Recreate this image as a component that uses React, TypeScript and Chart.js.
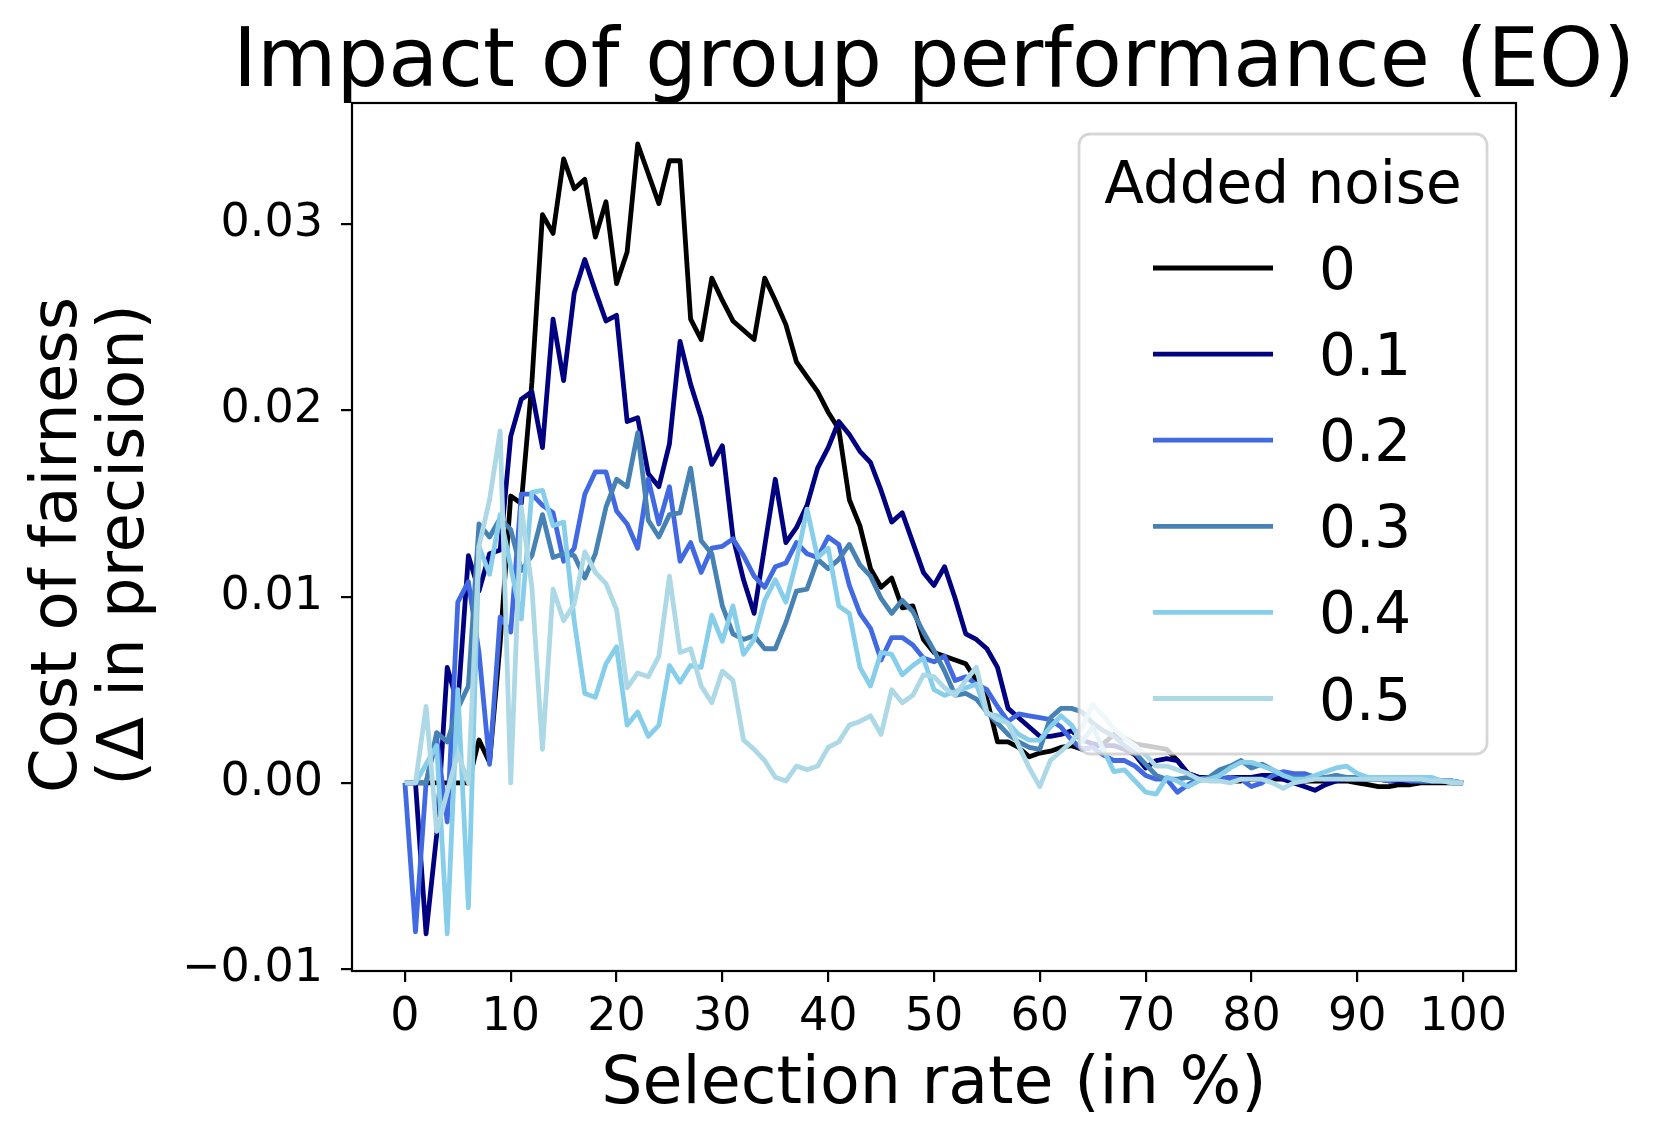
import React, { useEffect, useRef } from 'react';
import { Chart, registerables } from 'chart.js';

Chart.register(...registerables);

const chartTitle = 'Impact of group performance (EO)';
const xLabel = 'Selection rate (in %)';
const yLabel = ['Cost of fairness', '(\u0394 in precision)'];
const legendTitle = 'Added noise';

const selectionRate = [
  0, 1, 2, 3, 4, 5, 6, 7, 8, 9, 10, 11, 12, 13, 14, 15, 16, 17, 18, 19, 20,
  21, 22, 23, 24, 25, 26, 27, 28, 29, 30, 31, 32, 33, 34, 35, 36, 37, 38, 39, 40,
  41, 42, 43, 44, 45, 46, 47, 48, 49, 50, 51, 52, 53, 54, 55, 56, 57, 58, 59, 60,
  61, 62, 63, 64, 65, 66, 67, 68, 69, 70, 71, 72, 73, 74, 75, 76, 77, 78, 79, 80,
  81, 82, 83, 84, 85, 86, 87, 88, 89, 90, 91, 92, 93, 94, 95, 96, 97, 98, 99, 100,
];

const noiseLabels = ['0', '0.1', '0.2', '0.3', '0.4', '0.5'];
const noiseColors = ['#000000', '#000080', '#4169e1', '#4682b4', '#87ceeb', '#add8e6'];

const noise00 = [
  0, 0, 0, 0, 0, 0, 0, 0.0023, 0.0011, 0.0075, 0.0154,
  0.015, 0.0215, 0.0305, 0.0295, 0.0335, 0.0319, 0.0324, 0.0293, 0.0312, 0.0268,
  0.0285, 0.0343, 0.0327, 0.0311, 0.0334, 0.0334, 0.0249, 0.0238, 0.0271, 0.0259,
  0.0248, 0.0243, 0.0238, 0.0271, 0.0259, 0.0246, 0.0226, 0.0218, 0.021, 0.0199,
  0.019, 0.0152, 0.0138, 0.0115, 0.0105, 0.011, 0.0094, 0.0095, 0.0077, 0.007,
  0.0068, 0.0066, 0.0064, 0.0055, 0.0045, 0.0022, 0.0022, 0.0019, 0.0014, 0.0016,
  0.0017, 0.0019, 0.002, 0.0018, 0.0019, 0.0021, 0.0026, 0.0024, 0.0021, 0.002,
  0.0019, 0.0018, 0.0012, 0.0005, 0.0003, 0.0002, 0.0002, 0.0001, 0.0001, 0.0002,
  0.0002, 0.0002, 0.0002, 0.0001, 0.0001, 0.0001, 0.0001, 0.0001, 0.0001, 0,
  -0.0001, -0.0002, -0.0002, -0.0001, -0.0001, 0, 0, 0, 0, 0,
];

const noise01 = [
  0, 0, -0.0081, -0.0028, 0.0062, 0.0042, 0.0122, 0.0103, 0.0123, 0.0125, 0.0186,
  0.0206, 0.021, 0.018, 0.0249, 0.0216, 0.0263, 0.0281, 0.0264, 0.0248, 0.0251,
  0.0194, 0.0196, 0.0166, 0.0159, 0.0182, 0.0237, 0.0214, 0.0196, 0.0171, 0.0181,
  0.0132, 0.0109, 0.0091, 0.0127, 0.0163, 0.0129, 0.0137, 0.0149, 0.0169, 0.018,
  0.0194, 0.0187, 0.0178, 0.0172, 0.0157, 0.014, 0.0145, 0.0129, 0.0113, 0.0106,
  0.0116, 0.0099, 0.008, 0.0077, 0.0072, 0.0062, 0.004, 0.0035, 0.003, 0.0025,
  0.0025, 0.0026, 0.0028, 0.0023, 0.0021, 0.002, 0.002, 0.0018, 0.0015, 0.0008,
  0.0012, 0.0013, 0.0012, 0.0005, 0.0003, 0.0003, 0.0002, 0.0003, 0.0003, 0.0003,
  0.0004, 0.0004, 0.0002, 0, -0.0002, -0.0004, -0.0001, 0.0001, 0.0002, 0.0002,
  0.0002, 0.0002, 0.0001, 0.0001, 0.0001, 0.0001, 0.0001, 0.0001, 0.0001, 0,
];

const noise02 = [
  0, -0.008, 0, 0.0024, -0.0021, 0.0097, 0.0108, 0.007, 0.001, 0.0089, 0.0081,
  0.0155, 0.0155, 0.0149, 0.0145, 0.0119, 0.0126, 0.0155, 0.0167, 0.0167, 0.0146,
  0.0139, 0.0126, 0.0163, 0.0139, 0.0159, 0.0119, 0.0129, 0.0113, 0.0126, 0.0127,
  0.0131, 0.0122, 0.0111, 0.0105, 0.0116, 0.0118, 0.0129, 0.0123, 0.0121, 0.0132,
  0.0128, 0.0106, 0.0091, 0.0083, 0.0066, 0.0078, 0.0078, 0.0074, 0.0067, 0.0065,
  0.0068, 0.0055, 0.0057, 0.0053, 0.005, 0.0041, 0.0033, 0.0037, 0.0036, 0.0035,
  0.0034, 0.003, 0.0023, 0.0018, 0.0019, 0.0015, 0.0012, 0.0012, 0.0009, 0.0004,
  0.0002, 0.0002, -0.0005, -0.0001, 0.0002, 0.0002, 0.0002, 0.0003, 0.0002, -0.0002,
  0, 0.0004, 0.0006, 0.0005, 0.0005, 0.0003, 0.0002, 0.0004, 0.0002, 0.0002,
  0.0002, 0.0002, 0.0001, 0.0002, 0.0001, 0.0001, 0.0001, 0.0001, 0, 0,
];

const noise03 = [
  0, 0, 0, 0.0027, 0.0022, 0.004, 0.0052, 0.0139, 0.0132, 0.0142, 0.0136,
  0.0114, 0.0122, 0.0144, 0.0121, 0.0123, 0.0122, 0.011, 0.0123, 0.0148, 0.0163,
  0.0159, 0.0188, 0.0141, 0.0132, 0.0144, 0.0145, 0.0169, 0.013, 0.0123, 0.0095,
  0.008, 0.0077, 0.0079, 0.0072, 0.0072, 0.0086, 0.0103, 0.0104, 0.012, 0.0115,
  0.012, 0.0128, 0.0117, 0.0111, 0.0099, 0.0091, 0.0098, 0.0092, 0.0081, 0.0071,
  0.006, 0.0047, 0.0048, 0.0045, 0.0038, 0.0032, 0.0026, 0.0022, 0.0019, 0.0018,
  0.0035, 0.004, 0.004, 0.0038, 0.0032, 0.0028, 0.0025, 0.002, 0.0016, 0.001,
  0.0004, 0.0002, 0.0002, 0.0003, 0.0002, 0.0003, 0.0007, 0.0009, 0.0012, 0.0008,
  0.001, 0.0007, 0.0004, 0.0003, 0.0003, 0.0003, 0.0003, 0.0004, 0.0003, 0.0003,
  0.0002, 0.0002, 0.0002, 0.0002, 0.0002, 0.0001, 0.0001, 0.0001, 0, 0,
];

const noise04 = [
  0, 0, 0.001, 0.002, -0.0081, 0.005, -0.0067, 0.0127, 0.0112, 0.0144, 0.0116,
  0.0088, 0.0156, 0.0157, 0.0138, 0.014, 0.0087, 0.0048, 0.0046, 0.0064, 0.0073,
  0.0031, 0.0038, 0.0025, 0.0031, 0.0063, 0.0054, 0.0063, 0.0062, 0.009, 0.0076,
  0.0095, 0.0069, 0.0077, 0.0098, 0.0109, 0.0097, 0.0119, 0.0147, 0.0121, 0.0126,
  0.0095, 0.0091, 0.0062, 0.0052, 0.007, 0.0069, 0.0058, 0.0063, 0.0067, 0.005,
  0.0047, 0.0049, 0.0051, 0.0053, 0.0037, 0.0036, 0.0032, 0.0026, 0.0023, 0.0023,
  0.003, 0.0036, 0.0031, 0.0022, 0.003, 0.0018, 0.0006, 0.0007, 0.0001, -0.0005,
  -0.0006, 0.0003, 0.0001, -0.0002, 0.0001, 0.0002, 0.0004, 0.0008, 0.0011, 0.0011,
  0.0009, 0.0007, 0.0004, 0.0002, 0.0002, 0.0004, 0.0006, 0.0008, 0.0009, 0.0005,
  0.0003, 0.0003, 0.0003, 0.0003, 0.0003, 0.0003, 0.0003, 0.0001, 0.0001, 0,
];

const noise05 = [
  0, 0, 0.0041, -0.0026, -0.0005, 0.0016, 0, 0.0127, 0.0152, 0.0189, 0,
  0.0148, 0.0105, 0.0018, 0.0104, 0.0087, 0.0096, 0.0124, 0.0113, 0.0107, 0.0093,
  0.0051, 0.0059, 0.0057, 0.0068, 0.0111, 0.007, 0.0072, 0.0052, 0.0043, 0.006,
  0.0055, 0.0023, 0.0018, 0.0012, 0.0003, 0.0001, 0.0009, 0.0007, 0.0009, 0.0019,
  0.0022, 0.0031, 0.0033, 0.0036, 0.0026, 0.005, 0.0043, 0.0047, 0.0058, 0.0057,
  0.0051, 0.0047, 0.0055, 0.0062, 0.0038, 0.0034, 0.0032, 0.002, 0.0008, -0.0002,
  0.0012, 0.0017, 0.0022, 0.003, 0.0042, 0.0036, 0.0029, 0.0024, 0.002, 0.0015,
  0.0009, 0.0009, 0.0007, 0.0005, 0.0002, 0.0001, 0.0001, 0, 0.0002, 0.0002,
  0.0002, 0, -0.0003, 0, 0.0001, 0.0002, 0.0002, 0.0002, 0.0002, 0.0002,
  0.0002, 0.0002, 0.0002, 0.0002, 0.0002, 0.0002, 0.0001, 0.0001, 0, 0,
];

const seriesValues = [noise00, noise01, noise02, noise03, noise04, noise05];

const xTicks = [0, 10, 20, 30, 40, 50, 60, 70, 80, 90, 100];
const yTicks = [-0.01, 0, 0.01, 0.02, 0.03];

const FONT = '"DejaVu Sans", "Liberation Sans", sans-serif';
const W = 1659;
const H = 1143;
const LINE_W = 4.8;

const decorPlugin = {
  id: 'decor',
  afterDatasetsDraw(chart: any) {
    const { ctx, chartArea: a } = chart;
    ctx.save();
    ctx.strokeStyle = '#000';
    ctx.lineWidth = 2.2;
    ctx.strokeRect(a.left, a.top, a.right - a.left, a.bottom - a.top);
    ctx.restore();
  },
  afterDraw(chart: any) {
    const { ctx, chartArea: a } = chart;
    ctx.save();
    // title
    ctx.fillStyle = '#000';
    ctx.font = `81.5px ${FONT}`;
    ctx.textAlign = 'center';
    ctx.textBaseline = 'alphabetic';
    ctx.fillText(chartTitle, (a.left + a.right) / 2, 86);

    // y axis label (two lines, rotated)
    ctx.font = `64px ${FONT}`;
    ctx.textAlign = 'center';
    ctx.textBaseline = 'alphabetic';
    const centerY = 545;
    yLabel.forEach((line, i) => {
      ctx.save();
      ctx.translate(76 + i * 67, centerY);
      ctx.rotate(-Math.PI / 2);
      ctx.fillText(line, 0, 0);
      ctx.restore();
    });

    // legend box
    const boxRight = a.right - 29;
    const boxLeft = boxRight - 408;
    const boxTop = a.top + 31;
    const boxBottom = boxTop + 620;
    ctx.beginPath();
    ctx.roundRect(boxLeft, boxTop, boxRight - boxLeft, boxBottom - boxTop, 11);
    ctx.fillStyle = 'rgba(255,255,255,0.8)';
    ctx.fill();
    ctx.lineWidth = 2.8;
    ctx.strokeStyle = 'rgba(204,204,204,0.8)';
    ctx.stroke();

    ctx.fillStyle = '#000';
    ctx.font = `58px ${FONT}`;
    ctx.textAlign = 'center';
    ctx.fillText(legendTitle, (boxLeft + boxRight) / 2, boxTop + 69);

    ctx.textAlign = 'left';
    noiseLabels.forEach((lab, i) => {
      const rowY = boxTop + 134 + i * 86.1;
      ctx.beginPath();
      ctx.moveTo(boxLeft + 74, rowY);
      ctx.lineTo(boxLeft + 194, rowY);
      ctx.strokeStyle = noiseColors[i];
      ctx.lineWidth = LINE_W;
      ctx.lineCap = 'butt';
      ctx.stroke();
      ctx.fillStyle = '#000';
      ctx.fillText(lab, boxLeft + 240, rowY + 21);
    });
    ctx.restore();
  },
};

export default function App() {
  const canvasRef = useRef<HTMLCanvasElement | null>(null);

  useEffect(() => {
    const canvas = canvasRef.current;
    if (!canvas) return;
    const datasets = noiseLabels.map((lab, i) => ({
      label: lab,
      data: seriesValues[i].map((v, j) => ({ x: selectionRate[j], y: v })),
      borderColor: noiseColors[i],
      backgroundColor: noiseColors[i],
      borderWidth: LINE_W,
      pointRadius: 0,
      tension: 0,
      fill: false,
      borderJoinStyle: 'round' as const,
      order: noiseLabels.length - i,
    }));

    const chart = new Chart(canvas, {
      type: 'line',
      data: { datasets },
      plugins: [decorPlugin],
      options: {
        responsive: false,
        maintainAspectRatio: false,
        devicePixelRatio: 1,
        animation: false,
        layout: { padding: { left: 0, right: W - 1516, top: 103, bottom: 0 } },
        plugins: {
          legend: { display: false },
          tooltip: { enabled: false },
          title: { display: false },
        },
        scales: {
          x: {
            type: 'linear',
            min: -5,
            max: 105,
            afterBuildTicks: (s: any) => {
              s.ticks = xTicks.map((v) => ({ value: v }));
            },
            afterFit: (s: any) => {
              s.height = H - 971;
            },
            grid: { drawOnChartArea: false, drawTicks: true, tickLength: 11, color: '#000', lineWidth: 2.2 },
            border: { display: false },
            ticks: {
              color: '#000',
              font: { family: FONT, size: 46 },
              padding: 8,
              maxRotation: 0,
              autoSkip: false,
              callback: (v: any) => String(v),
            },
            title: {
              display: true,
              text: xLabel,
              color: '#000',
              font: { family: FONT, size: 65, lineHeight: 1 },
              padding: { top: 0, bottom: 24 },
            },
          },
          y: {
            type: 'linear',
            min: -0.0101,
            max: 0.0365,
            afterBuildTicks: (s: any) => {
              s.ticks = yTicks.map((v) => ({ value: v }));
            },
            afterFit: (s: any) => {
              s.width = 352;
            },
            grid: { drawOnChartArea: false, drawTicks: true, tickLength: 11, color: '#000', lineWidth: 2.2 },
            border: { display: false },
            ticks: {
              color: '#000',
              font: { family: FONT, size: 46 },
              padding: 18,
              autoSkip: false,
              callback: (v: any) => (v < 0 ? '\u2212' : '') + Math.abs(Number(v)).toFixed(2),
            },
            title: { display: false },
          },
        },
      },
    });
    return () => chart.destroy();
  }, []);

  return (
    <div style={{ position: 'absolute', left: 0, top: 0, width: W, height: H, background: '#fff' }}>
      <canvas ref={canvasRef} width={W} height={H} style={{ width: W, height: H, display: 'block' }} />
    </div>
  );
}
